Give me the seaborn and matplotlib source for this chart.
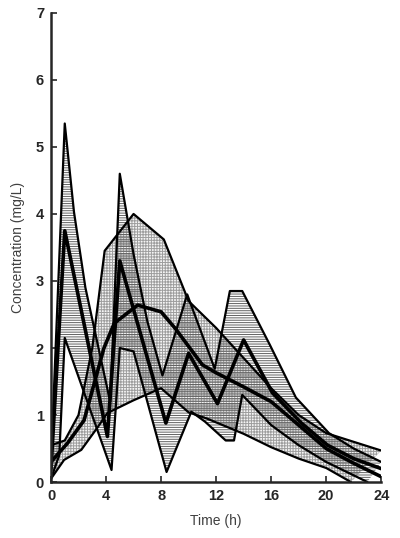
import numpy as np
import seaborn as sns
import matplotlib.pyplot as plt

# =========================
# Datos
# =========================
# banda rayada horizontal (dosis intermitente)
h_up_t = [0, 1, 1.67, 2.5, 4.3, 5, 6, 7, 8.1, 9.9, 11.9, 13.0, 13.9, 15.9, 17.8, 20.2, 22, 24]
h_up_c = [0.3, 5.35, 4.03, 2.9, 1.2, 4.6, 3.4, 2.4, 1.59, 2.8, 1.69, 2.85, 2.85, 2.05, 1.26, 0.73, 0.5, 0.3]
h_lo_t = [0, 0.6, 1, 4.4, 5, 6, 8.4, 10.2, 11.2, 12.7, 13.3, 13.9, 16, 18, 20, 22, 23]
h_lo_c = [0.05, 0.4, 2.15, 0.18, 2.0, 1.95, 0.15, 1.05, 0.9, 0.62, 0.62, 1.3, 0.85, 0.55, 0.3, 0.1, 0.0]
h_mean_t = [0, 1, 4.1, 5, 8.35, 10, 12.1, 14, 16.1, 18.2, 20.1, 22, 24]
h_mean_c = [0.2, 3.75, 0.68, 3.3, 0.88, 1.92, 1.17, 2.12, 1.33, 0.88, 0.55, 0.35, 0.2]

# banda punteada (infusión)
d_up_t = [0, 1, 2, 3, 3.9, 6, 8.2, 10, 12, 14, 16, 18, 20, 22, 24]
d_up_c = [0.55, 0.62, 1.0, 2.0, 3.45, 4.0, 3.62, 2.7, 2.3, 1.85, 1.4, 1.0, 0.73, 0.6, 0.47]
d_lo_t = [0, 0.95, 2.2, 3.4, 4.1, 6, 8, 10, 11.3, 14, 16, 18, 20, 21.8]
d_lo_c = [0.05, 0.33, 0.48, 0.82, 1.03, 1.22, 1.4, 1.04, 0.95, 0.72, 0.52, 0.35, 0.21, 0.0]
d_mean_t = [0, 1.2, 2.4, 3.85, 4.6, 6.3, 8, 9, 11, 12, 14, 16, 18, 20, 22, 24]
d_mean_c = [0.3, 0.58, 0.92, 2.0, 2.37, 2.64, 2.54, 2.3, 1.75, 1.63, 1.42, 1.2, 0.85, 0.5, 0.28, 0.08]

x_ticks = [0, 4, 8, 12, 16, 20, 24]
y_ticks = [0, 1, 2, 3, 4, 5, 6, 7]

# =========================
# Estilo
# =========================
sns.set_style("ticks")
plt.rcParams['font.family'] = ['Liberation Sans', 'DejaVu Sans']
plt.rcParams['hatch.linewidth'] = 0.7

fig, ax = plt.subplots(figsize=(4, 5.38), dpi=100)
fig.subplots_adjust(left=0.1275, right=0.953, bottom=0.104, top=0.976)

# Bandas sombreadas
ax.fill(np.r_[d_up_t, d_lo_t[::-1]], np.r_[d_up_c, d_lo_c[::-1]],
        facecolor='0.96', edgecolor='0.62', hatch='++++++', linewidth=0)
ax.fill(np.r_[h_up_t, h_lo_t[::-1]], np.r_[h_up_c, h_lo_c[::-1]],
        facecolor='none', edgecolor='0.38', hatch='-------', linewidth=0)

# Contornos y medias
for t, c in [(d_up_t, d_up_c), (d_lo_t, d_lo_c), (h_up_t, h_up_c), (h_lo_t, h_lo_c)]:
    sns.lineplot(x=t, y=c, ax=ax, color='black', linewidth=1.6, sort=False, estimator=None)
for t, c in [(d_mean_t, d_mean_c), (h_mean_t, h_mean_c)]:
    sns.lineplot(x=t, y=c, ax=ax, color='black', linewidth=2.6, sort=False, estimator=None)

ax.set_xlim(0, 24)
ax.set_ylim(0, 7)
ax.set_xticks(x_ticks)
ax.set_yticks(y_ticks)
ax.tick_params(direction='in', length=4, width=1.2, labelsize=10.5, pad=5)
for lab in ax.get_xticklabels() + ax.get_yticklabels():
    lab.set_fontweight('bold')
for s in ['left', 'bottom']:
    ax.spines[s].set_linewidth(1.8)
sns.despine(ax=ax)

ax.set_xlabel("Time (h)", fontsize=10, color='0.25', labelpad=8)
ax.set_ylabel("Concentration (mg/L)", fontsize=10, color='0.25', labelpad=8)

plt.savefig("out.png", dpi=100)
plt.close(fig)
